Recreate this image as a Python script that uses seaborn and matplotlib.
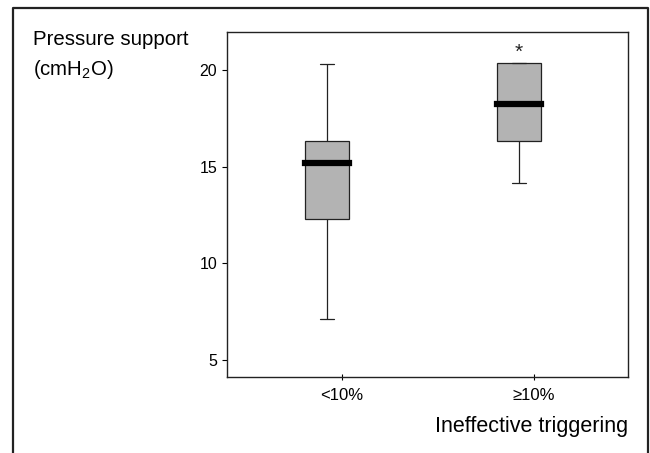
import matplotlib
matplotlib.use("Agg")
import matplotlib.pyplot as plt
import pandas as pd
import seaborn as sns
from matplotlib.lines import Line2D

# Pressure support per ineffective-triggering group
# five-number summary: low whisker, Q1, median, Q3, high whisker
groups = ["<10%", "≥10%"]
low_group = [7.1, 12.28, 15.2, 16.31, 20.33]
high_group = [14.17, 16.33, 18.25, 20.36, 20.36]
star_value = 20.9

df = pd.DataFrame({
    "group": [groups[0]] * len(low_group) + [groups[1]] * len(high_group),
    "pressure": low_group + high_group,
})

sns.set_style("ticks")
plt.rcParams["font.family"] = ["Liberation Sans", "DejaVu Sans"]
plt.rcParams["mathtext.fontset"] = "custom"
plt.rcParams["mathtext.rm"] = "Liberation Sans"
plt.rcParams["mathtext.it"] = "Liberation Sans"
plt.rcParams["text.color"] = "black"
plt.rcParams["xtick.color"] = "black"
plt.rcParams["ytick.color"] = "black"

fig = plt.figure(figsize=(6.5, 4.53), dpi=100)
ax = fig.add_axes([0.349, 0.1678, 0.617, 0.7616])

sns.boxplot(data=df, x="group", y="pressure", ax=ax, order=groups,
            width=0.23, whis=(0, 100), color="#b3b3b3", linecolor="#222222",
            linewidth=0.9, capwidths=0.075, showfliers=False,
            medianprops=dict(color="black", linewidth=4.5, solid_capstyle="projecting"))

ax.text(1, star_value, "*", ha="center", va="center", fontsize=15, color="#222222")

ax.set_xlim(-0.521, 1.568)
ax.set_ylim(4.12, 21.97)
ax.set_yticks([5, 10, 15, 20])
ax.set_xticks([0.078, 1.078], groups)
ax.tick_params(axis="y", direction="out", length=3.5, width=0.8, labelsize=11.5)
ax.tick_params(axis="x", direction="inout", length=4.5, width=0.8, labelsize=12, pad=6)
ax.set_xlabel("")
ax.set_ylabel("")
for s in ax.spines.values():
    s.set_visible(True)
    s.set_linewidth(1.0)
    s.set_color("#222222")

fig.text(33 / 650, 1 - 30 / 453, "Pressure support", fontsize=14.7, va="top", ha="left")
fig.text(33 / 650, 1 - 58 / 453, "(cmH$_2$O)", fontsize=14.7, va="top", ha="left")
fig.text(628 / 650, 1 - 432 / 453, "Ineffective triggering", fontsize=15.5,
         ha="right", va="baseline")

# outer frame (open at the bottom)
frame = Line2D([13 / 650, 13 / 650, 648 / 650, 648 / 650],
               [0, 1 - 8 / 453, 1 - 8 / 453, 0],
               transform=fig.transFigure, color="#222222", linewidth=1.6)
fig.add_artist(frame)

fig.savefig("out.png", dpi=100)
